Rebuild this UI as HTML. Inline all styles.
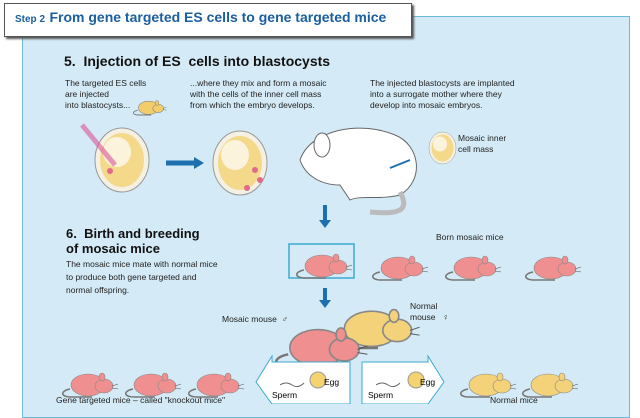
<!DOCTYPE html>
<html><head><meta charset="utf-8"><style>
body{margin:0;width:640px;height:404px;overflow:hidden;background:#fff;font-family:"Liberation Sans",sans-serif;position:relative}
.t{position:absolute;color:#222;font-size:8.5px;line-height:11px}
</style></head><body>
<div style="position:absolute;left:22px;top:16px;width:606px;height:400px;background:#d4ebf7;border:1px solid #6bbad8"></div>
<div style="position:absolute;left:4px;top:3px;width:406px;height:32px;background:#fff;border:1px solid #555;box-shadow:2px 2px 2px #555"></div>
<div style="position:absolute;left:15px;top:9px;color:#1a5fa0;font-weight:bold;white-space:nowrap"><span style="font-size:10px">Step 2</span> <span style="font-size:14px">From gene targeted ES cells to gene targeted mice</span></div>
<div style="position:absolute;left:64px;top:53px;font-size:14px;font-weight:bold;color:#111">5.&nbsp; Injection of ES&nbsp; cells into blastocysts</div>
<div class="t" style="left:65px;top:78px">The targeted ES cells<br>are injected<br>into blastocysts...</div>
<div class="t" style="left:190px;top:78px">...where they mix and form a mosaic<br>with the cells of the inner cell mass<br>from which the embryo develops.</div>
<div class="t" style="left:370px;top:78px">The injected blastocysts are implanted<br>into a surrogate mother where they<br>develop into mosaic embryos.</div>
<div class="t" style="left:458px;top:133px">Mosaic inner<br>cell mass</div>
<div style="position:absolute;left:66px;top:226px;font-size:13px;font-weight:bold;color:#111;line-height:15px">6.&nbsp; Birth and breeding<br>of mosaic mice</div>
<div class="t" style="left:66px;top:258px;line-height:13px">The mosaic mice mate with normal mice<br>to produce both gene targeted and<br>normal offspring.</div>
<div class="t" style="left:436px;top:232px">Born mosaic mice</div>
<div class="t" style="left:222px;top:314px">Mosaic mouse &nbsp;♂</div>
<div class="t" style="left:410px;top:301px">Normal<br>mouse &nbsp;&nbsp;♀</div>
<div class="t" style="left:56px;top:395px">Gene targeted mice – called "knockout mice"</div>
<div class="t" style="left:490px;top:395px">Normal mice</div>
<svg width="640" height="404" style="position:absolute;left:0;top:0">
<defs>
<g id="m"><path d="M8,22 C-2,24 -2,30 10,30 L30,30" fill="none" stroke="#777" stroke-width="1.5"/><ellipse cx="26" cy="18" rx="17" ry="11"/><ellipse cx="42" cy="19" rx="9" ry="7"/><ellipse cx="40" cy="10" rx="3" ry="4"/><path d="M50,19 L56,17 M50,21 L56,22" stroke="#555" stroke-width=".6"/></g>
<g id="bl"><ellipse cx="0" cy="0" rx="27" ry="32" fill="#f4f1e4" stroke="#999"/><ellipse cx="0" cy="0" rx="22" ry="27" fill="#f5d98a"/><ellipse cx="-5" cy="-8" rx="14" ry="15" fill="#fbf3dc"/></g>
</defs>
<use href="#bl" x="122" y="160"/><circle cx="110" cy="171" r="3" fill="#e06a8a"/>
<line x1="82" y1="125" x2="115" y2="165" stroke="#d59" stroke-width="5" opacity=".6"/>
<g transform="translate(133,97) scale(.6)" fill="#f3cd6a" stroke="#888"><use href="#m"/></g>
<use href="#bl" x="240" y="163"/><circle cx="255" cy="170" r="3" fill="#e06a8a"/><circle cx="260" cy="180" r="3" fill="#e06a8a"/><circle cx="247" cy="188" r="3" fill="#e06a8a"/>
<path d="M166,163 L196,163" stroke="#1d6fae" stroke-width="5"/><path d="M194,157 L204,163 L194,169Z" fill="#1d6fae"/>
<g fill="#fff" stroke="#666"><path d="M300,160 C310,130 360,120 395,135 C420,145 425,180 400,195 C380,200 360,195 350,200 L340,185 C320,185 305,175 300,160Z"/><ellipse cx="322" cy="145" rx="8" ry="12"/><path d="M400,192 C410,210 400,215 370,212" fill="none" stroke="#bbb" stroke-width="5"/></g>
<path d="M410,160 L390,168" stroke="#1d6fae" stroke-width="2"/>
<use href="#bl" x="443" y="148" transform="translate(221,74) scale(.5)"/>
<path d="M325,205 L325,222" stroke="#1d6fae" stroke-width="4"/><path d="M319,220 L325,228 L331,220Z" fill="#1d6fae"/>
<path d="M325,288 L325,302" stroke="#1d6fae" stroke-width="4"/><path d="M319,300 L325,308 L331,300Z" fill="#1d6fae"/>
<rect x="289" y="244" width="65" height="34" fill="none" stroke="#3ba9d0" stroke-width="1.5"/>
<g fill="#ef8f8f" stroke="#888" stroke-width=".6"><use href="#m" x="296" y="248"/><use href="#m" x="372" y="250"/><use href="#m" x="445" y="250"/><use href="#m" x="525" y="250"/>
<use href="#m" x="62" y="367"/><use href="#m" x="125" y="367"/><use href="#m" x="188" y="367"/></g>
<g fill="#f3d27a" stroke="#888" stroke-width=".6"><use href="#m" x="460" y="367"/><use href="#m" x="522" y="367"/></g>
<g transform="translate(330,300) scale(1.6)" fill="#f3d27a" stroke="#888"><use href="#m" x="0" y="0"/></g>
<g transform="translate(275,318) scale(1.65)" fill="#ef8f8f" stroke="#888"><use href="#m"/></g>
<path d="M350,362 L272,362 L272,356 L256,382 L272,404 L350,404Z" fill="#fff" stroke="#3ba9d0"/>
<path d="M362,362 L428,362 L428,356 L444,382 L428,404 L362,404Z" fill="#fff" stroke="#3ba9d0"/>
<circle cx="318" cy="380" r="8" fill="#f5d36e" stroke="#999"/><circle cx="416" cy="380" r="8" fill="#f5d36e" stroke="#999"/>
<path d="M280,385 q6,-4 12,0 t12,-2" fill="none" stroke="#666"/><path d="M376,385 q6,-4 12,0 t12,-2" fill="none" stroke="#666"/>
<text x="324" y="385" font-size="8.5" font-family="Liberation Sans">Egg</text>
<text x="420" y="385" font-size="8.5" font-family="Liberation Sans">Egg</text>
<text x="272" y="398" font-size="8.5" font-family="Liberation Sans">Sperm</text>
<text x="368" y="398" font-size="8.5" font-family="Liberation Sans">Sperm</text>
</svg>
</body></html>
